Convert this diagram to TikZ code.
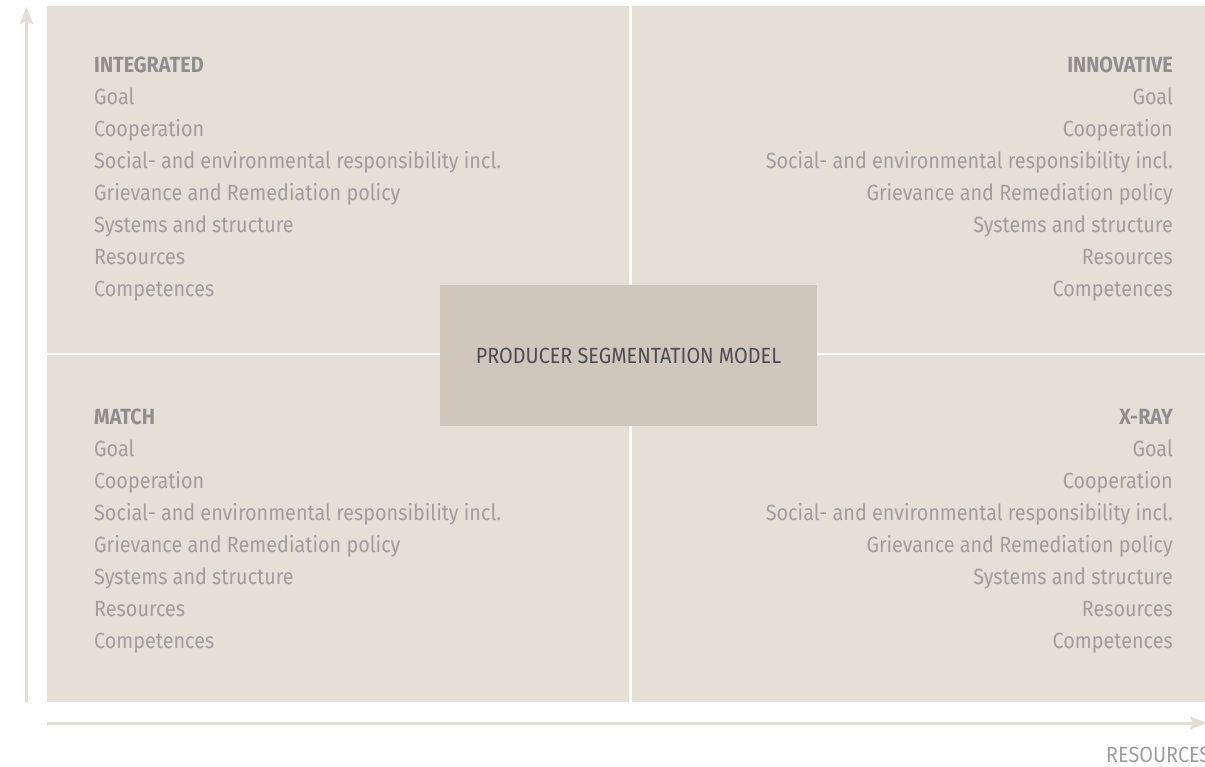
\documentclass[tikz,border=0pt]{standalone}
\usepackage{fontspec}
\setmainfont{Fira Sans}[FakeStretch=0.9]
\usetikzlibrary{arrows.meta,positioning}
\definecolor{sand}{HTML}{E6DFD5}
\definecolor{stone}{HTML}{CFC7BC}
\definecolor{axiscol}{HTML}{E6DED3}
\definecolor{itemgray}{HTML}{9E9E9E}
\definecolor{headgray}{HTML}{8E8E8E}
\definecolor{ink}{HTML}{4B4D53}

\begin{document}
\begin{tikzpicture}[x=1pt,y=-1pt,node distance=32pt,
        item/.style={inner sep=0pt,text=itemgray,font=\fontsize{22}{26}\selectfont,text height=15pt,text depth=5pt},
        head/.style={item,text=headgray,font=\fontsize{22}{26}\selectfont\bfseries},
        litem/.style={item,anchor=west},
        ritem/.style={item,anchor=east},
        centerbox/.style={fill=stone,minimum width=377pt,minimum height=141pt,text=ink,font=\fontsize{22}{26}\selectfont},
        axisline/.style={draw=axiscol,line width=3pt,-{Stealth[length=17pt,width=13pt,inset=3pt]}}]
        \useasboundingbox (0,0) rectangle (1205,767);
        % quadrants
        \fill[sand] (47,6) rectangle (1205,702);
        \draw[white,line width=3pt] (630,6) -- (630,702);
        \draw[white,line width=2.5pt] (47,354) -- (1205,354);
        \node[centerbox] (model) at (628.5,355.5) {PRODUCER SEGMENTATION MODEL};
        % integrated
        \node[head,anchor=west] (a0) at (94,68) {INTEGRATED};
        \node (a1) [below=of a0.west,litem] {Goal};
        \node (a2) [below=of a1.west,litem] {Cooperation};
        \node (a3) [below=of a2.west,litem] {Social- and environmental responsibility incl.};
        \node (a4) [below=of a3.west,litem] {Grievance and Remediation policy};
        \node (a5) [below=of a4.west,litem] {Systems and structure};
        \node (a6) [below=of a5.west,litem] {Resources};
        \node (a7) [below=of a6.west,litem] {Competences};
        % innovative
        \node[head,anchor=east] (b0) at (1173,68) {INNOVATIVE};
        \node (b1) [below=of b0.east,ritem] {Goal};
        \node (b2) [below=of b1.east,ritem] {Cooperation};
        \node (b3) [below=of b2.east,ritem] {Social- and environmental responsibility incl.};
        \node (b4) [below=of b3.east,ritem] {Grievance and Remediation policy};
        \node (b5) [below=of b4.east,ritem] {Systems and structure};
        \node (b6) [below=of b5.east,ritem] {Resources};
        \node (b7) [below=of b6.east,ritem] {Competences};
        % match
        \node[head,anchor=west] (c0) at (94,419) {MATCH};
        \node (c1) [below=of c0.west,litem] {Goal};
        \node (c2) [below=of c1.west,litem] {Cooperation};
        \node (c3) [below=of c2.west,litem] {Social- and environmental responsibility incl.};
        \node (c4) [below=of c3.west,litem] {Grievance and Remediation policy};
        \node (c5) [below=of c4.west,litem] {Systems and structure};
        \node (c6) [below=of c5.west,litem] {Resources};
        \node (c7) [below=of c6.west,litem] {Competences};
        % x-ray
        \node[head,anchor=east] (d0) at (1173,419) {X-RAY};
        \node (d1) [below=of d0.east,ritem] {Goal};
        \node (d2) [below=of d1.east,ritem] {Cooperation};
        \node (d3) [below=of d2.east,ritem] {Social- and environmental responsibility incl.};
        \node (d4) [below=of d3.east,ritem] {Grievance and Remediation policy};
        \node (d5) [below=of d4.east,ritem] {Systems and structure};
        \node (d6) [below=of d5.east,ritem] {Resources};
        \node (d7) [below=of d6.east,ritem] {Competences};
        % axes
        \coordinate (ybot) at (26.5,702);
        \coordinate (ytop) at (26.5,7);
        \coordinate (xleft) at (47,723);
        \coordinate (xright) at (1207,723);
        \draw[axisline] (ybot) -- (ytop);
        \draw[axisline] (xleft) -- (xright);
        \node[litem] (res) at (1106,757) {RESOURCES};
\end{tikzpicture}
\end{document}
